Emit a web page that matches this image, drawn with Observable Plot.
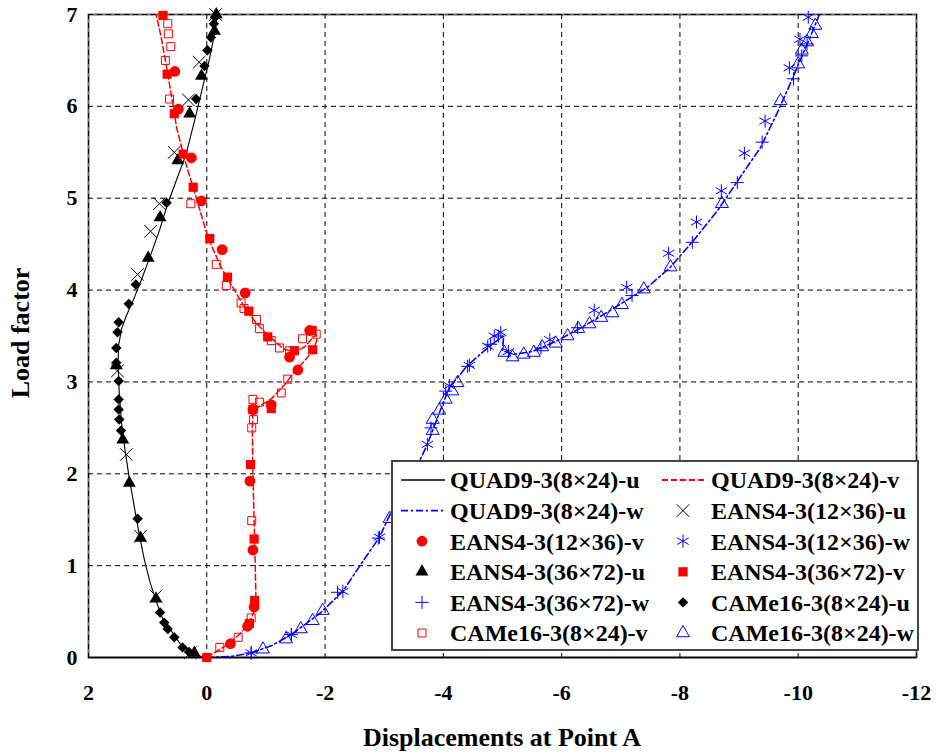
<!DOCTYPE html>
<html><head><meta charset="utf-8">
<script src="https://cdn.jsdelivr.net/npm/d3@7"></script>
<script src="https://cdn.jsdelivr.net/npm/@observablehq/plot@0.6"></script>
<style>body{margin:0;background:#fff}#chart{width:936px;height:754px}</style>
</head><body><div id="chart"></div>
<script>
// ---------- data ----------
const xTicks = [2, 0, -2, -4, -6, -8, -10, -12];
const yTicks = [0, 1, 2, 3, 4, 5, 6, 7];
const xTitle = "Displacements at Point A";
const yTitle = "Load factor";

// QUAD9-3(8x24) reference curves
const quadU_x = [0, 0.16, 0.28, 0.44, 0.60, 0.75, 0.86, 0.96, 1.05, 1.13, 1.22, 1.31, 1.38, 1.44, 1.48, 1.50, 1.49, 1.44, 1.36, 1.25, 1.10, 0.95, 0.80, 0.66, 0.50, 0.35, 0.20, 0.07, -0.04, -0.12, -0.18];
const quadU_y = [0, 0.02, 0.07, 0.14, 0.29, 0.43, 0.62, 0.82, 1.05, 1.30, 1.62, 1.95, 2.25, 2.55, 2.88, 3.20, 3.40, 3.58, 3.72, 3.88, 4.12, 4.38, 4.65, 4.94, 5.22, 5.48, 5.86, 6.21, 6.50, 6.75, 7.00];
const quadV_x = [0, -0.30, -0.55, -0.72, -0.80, -0.83, -0.82, -0.80, -0.78, -0.77, -0.78, -0.90, -1.10, -1.30, -1.50, -1.68, -1.80, -1.86, -1.85, -1.65, -1.48, -1.30, -1.05, -0.85, -0.65, -0.45, -0.24, -0.02, 0.18, 0.37, 0.51, 0.65, 0.77, 0.87];
const quadV_y = [0, 0.12, 0.25, 0.38, 0.50, 0.65, 1.00, 1.50, 2.00, 2.50, 2.68, 2.74, 2.82, 2.96, 3.12, 3.25, 3.35, 3.45, 3.52, 3.38, 3.32, 3.36, 3.50, 3.63, 3.80, 4.02, 4.25, 4.57, 5.01, 5.41, 5.77, 6.32, 6.75, 7.04];
const quadW_x = [0, -0.40, -0.75, -1.10, -1.43, -1.93, -2.30, -2.61, -2.92, -3.23, -3.56, -3.73, -3.90, -4.10, -4.41, -4.75, -4.97, -5.02, -5.00, -5.19, -5.50, -5.90, -6.30, -6.70, -7.00, -7.45, -7.84, -8.23, -8.63, -9.02, -9.36, -9.64, -9.86, -10.03, -10.20, -10.37];
const quadW_y = [0, 0.01, 0.05, 0.13, 0.25, 0.49, 0.72, 1.02, 1.31, 1.74, 2.09, 2.32, 2.61, 2.94, 3.18, 3.37, 3.48, 3.50, 3.34, 3.30, 3.33, 3.44, 3.58, 3.73, 3.85, 4.03, 4.25, 4.54, 4.86, 5.23, 5.55, 5.92, 6.24, 6.50, 6.75, 7.02];

// EANS4-3(12x36)
const eans12U_x = [0.28, 0.86, 1.12, 1.36, 1.51, 1.17, 0.95, 0.80, 0.55, 0.31, 0.13, -0.15];
const eans12U_y = [0.05, 0.67, 1.32, 2.21, 3.12, 4.17, 4.64, 4.94, 5.50, 6.07, 6.48, 7.00];
const eans12V_x = [-0.40, -0.69, -0.80, -0.78, -0.73, -0.78, -1.09, -1.54, -1.40, -1.74, -0.65, -0.26, 0.09, 0.26, 0.48, 0.54];
const eans12V_y = [0.15, 0.34, 0.55, 1.17, 1.92, 2.70, 2.75, 3.13, 3.27, 3.56, 3.97, 4.44, 4.97, 5.44, 5.97, 6.38];
const eans12W_x = [-0.75, -1.43, -2.30, -2.92, -3.55, -3.73, -4.10, -4.44, -4.75, -4.86, -4.97, -5.10, -5.80, -6.55, -7.10, -7.81, -8.28, -8.70, -9.09, -9.44, -9.85, -10.03, -10.17];
const eans12W_y = [0.05, 0.25, 0.72, 1.31, 2.07, 2.32, 2.96, 3.18, 3.39, 3.50, 3.54, 3.33, 3.46, 3.78, 4.03, 4.40, 4.74, 5.08, 5.49, 5.84, 6.42, 6.73, 6.97];

// EANS4-3(36x72)
const eans36U_x = [0.21, 0.86, 1.12, 1.31, 1.42, 1.53, 0.99, 0.79, 0.49, 0.29, 0.09, -0.13, -0.16];
const eans36U_y = [0.05, 0.64, 1.30, 1.90, 2.37, 3.18, 4.35, 4.79, 5.41, 5.92, 6.33, 6.82, 7.00];
const eans36V_x = [0, -0.72, -0.81, -0.80, -0.74, -0.78, -1.09, -1.79, -1.78, -1.48, -1.03, -0.71, -0.35, -0.05, 0.23, 0.40, 0.55, 0.67, 0.74];
const eans36V_y = [0, 0.37, 0.62, 1.29, 2.10, 2.70, 2.71, 3.35, 3.56, 3.34, 3.49, 3.77, 4.14, 4.56, 5.12, 5.48, 5.92, 6.35, 6.99];
const eans36W_x = [-0.75, -1.43, -2.21, -2.90, -3.79, -4.04, -4.41, -4.80, -4.93, -5.65, -6.27, -7.19, -8.21, -8.97, -9.39, -9.92, -10.06, -10.15];
const eans36W_y = [0.05, 0.25, 0.71, 1.30, 2.50, 2.90, 3.17, 3.41, 3.50, 3.37, 3.59, 3.94, 4.52, 5.17, 5.61, 6.30, 6.55, 6.68];

// CAMe16-3(8x24)
const came16U_x = [0.30, 0.41, 0.55, 0.66, 0.72, 0.79, 1.17, 1.45, 1.48, 1.49, 1.49, 1.49, 1.53, 1.53, 1.51, 1.49, 1.32, 1.20, 0.68, 0.18, 0.04, -0.01, -0.07, -0.12, -0.14];
const came16U_y = [0.06, 0.11, 0.22, 0.31, 0.38, 0.49, 1.51, 2.47, 2.59, 2.70, 2.81, 3.01, 3.21, 3.37, 3.54, 3.65, 3.85, 4.06, 4.95, 6.08, 6.44, 6.61, 6.75, 6.90, 6.97];
const came16V_x = [-0.22, -0.53, -0.75, -0.76, -0.76, -0.79, -0.78, -0.89, -1.26, -1.37, -1.85, -1.62, -1.40, -1.23, -1.09, -0.89, -0.84, -0.63, -0.58, -0.33, -0.16, 0.27, 0.63, 0.70, 0.61, 0.65, 0.66];
const came16V_y = [0.11, 0.22, 0.43, 1.49, 2.50, 2.59, 2.81, 2.78, 2.88, 3.03, 3.52, 3.47, 3.34, 3.37, 3.45, 3.58, 3.68, 3.80, 3.86, 4.05, 4.28, 4.94, 6.08, 6.50, 6.65, 6.79, 6.90];
const came16W_x = [-0.95, -1.34, -1.59, -1.79, -1.96, -3.09, -3.82, -3.82, -3.93, -4.04, -4.15, -4.24, -5.03, -5.17, -5.36, -5.53, -5.67, -5.90, -6.10, -6.28, -6.47, -6.67, -6.86, -7.02, -7.39, -7.84, -8.71, -9.70, -10.00, -10.06, -10.15, -10.23, -10.29];
const came16W_y = [0.09, 0.20, 0.31, 0.40, 0.51, 1.51, 2.47, 2.59, 2.69, 2.81, 2.90, 2.99, 3.32, 3.27, 3.30, 3.32, 3.38, 3.42, 3.50, 3.58, 3.63, 3.70, 3.75, 3.84, 4.01, 4.25, 4.94, 6.06, 6.46, 6.61, 6.70, 6.79, 6.88];

const seriesNames = [
  "QUAD9-3(8×24)-u", "QUAD9-3(8×24)-v", "QUAD9-3(8×24)-w",
  "EANS4-3(12×36)-u", "EANS4-3(12×36)-v", "EANS4-3(12×36)-w",
  "EANS4-3(36×72)-u", "EANS4-3(36×72)-v", "EANS4-3(36×72)-w",
  "CAMe16-3(8×24)-u", "CAMe16-3(8×24)-v", "CAMe16-3(8×24)-w"
];

// ---------- styling ----------
const pts = (xs, ys) => xs.map((x, i) => ({x, y: ys[i]}));
const BLACK = "#000", RED = "#ff0000", BLUE = "#0000ff";
const FONT = "'Liberation Serif','Times New Roman',serif";

const lineStyles = {
  "QUAD9-3(8×24)-u": {data: pts(quadU_x, quadU_y), stroke: BLACK, strokeWidth: 1.1, dash: null},
  "QUAD9-3(8×24)-v": {data: pts(quadV_x, quadV_y), stroke: RED, strokeWidth: 1.5, dash: "6,3"},
  "QUAD9-3(8×24)-w": {data: pts(quadW_x, quadW_y), stroke: BLUE, strokeWidth: 1.6, dash: "7,3,2,3"}
};
const dotStyles = {
  "EANS4-3(12×36)-u": {data: pts(eans12U_x, eans12U_y), symbol: "times", d3s: d3.symbolTimes, r: 5.8, fill: "none", stroke: BLACK},
  "EANS4-3(12×36)-v": {data: pts(eans12V_x, eans12V_y), symbol: "circle", d3s: d3.symbolCircle, r: 5.4, fill: RED, stroke: "none"},
  "EANS4-3(12×36)-w": {data: pts(eans12W_x, eans12W_y), symbol: "asterisk", d3s: d3.symbolAsterisk, r: 6.2, fill: "none", stroke: BLUE},
  "EANS4-3(36×72)-u": {data: pts(eans36U_x, eans36U_y), symbol: "triangle", d3s: d3.symbolTriangle, r: 4.8, fill: BLACK, stroke: "none"},
  "EANS4-3(36×72)-v": {data: pts(eans36V_x, eans36V_y), symbol: "square", d3s: d3.symbolSquare, r: 5.2, fill: RED, stroke: "none"},
  "EANS4-3(36×72)-w": {data: pts(eans36W_x, eans36W_y), symbol: "plus", d3s: d3.symbolPlus, r: 4.3, fill: "none", stroke: BLUE},
  "CAMe16-3(8×24)-u": {data: pts(came16U_x, came16U_y), symbol: "diamond2", d3s: d3.symbolDiamond2, r: 4.7, fill: BLACK, stroke: "none"},
  "CAMe16-3(8×24)-v": {data: pts(came16V_x, came16V_y), symbol: "square", d3s: d3.symbolSquare, r: 4.5, fill: "none", stroke: RED},
  "CAMe16-3(8×24)-w": {data: pts(came16W_x, came16W_y), symbol: "triangle", d3s: d3.symbolTriangle, r: 4.8, fill: "none", stroke: BLUE}
};

const marks = [
  Plot.frame({stroke: "#666", strokeWidth: 2}),
  Plot.ruleX(xTicks, {stroke: "#000", strokeWidth: 1, strokeDasharray: "5,4"}),
  Plot.ruleY(yTicks, {stroke: "#000", strokeWidth: 1, strokeDasharray: "5,4"}),
  Plot.ruleY([0], {stroke: "#000", strokeWidth: 1.5})
];
for (const k of Object.keys(lineStyles)) {
  const s = lineStyles[k];
  marks.push(Plot.line(s.data, {x: "x", y: "y", stroke: s.stroke, strokeWidth: s.strokeWidth, strokeDasharray: s.dash, clip: true}));
}
for (const k of Object.keys(dotStyles)) {
  const s = dotStyles[k];
  marks.push(Plot.dot(s.data, {x: "x", y: "y", symbol: s.symbol, r: s.r, fill: s.fill, stroke: s.stroke, strokeWidth: 1}));
}

const plot = Plot.plot({
  width: 936, height: 754,
  marginLeft: 88, marginRight: 20, marginTop: 14, marginBottom: 97,
  style: {fontFamily: FONT, fontSize: "22px", fontWeight: "bold", background: "#fff", color: "#000"},
  x: {domain: [2, -12], ticks: xTicks, tickFormat: d => String(d), tickSize: 0, tickPadding: 27, label: null},
  y: {domain: [0, 7], ticks: yTicks, tickFormat: d => String(d), tickSize: 0, tickPadding: 11, label: null},
  marks
});
document.getElementById("chart").appendChild(plot);

// ---------- axis titles & legend ----------
const svg = d3.select(plot.tagName.toLowerCase() === "svg" ? plot : plot.querySelector("svg"));
svg.append("text").attr("x", 502).attr("y", 746).attr("text-anchor", "middle")
  .attr("font-family", FONT).attr("font-size", 26).attr("font-weight", "bold").text(xTitle);
svg.append("text").attr("transform", "translate(29,333) rotate(-90)").attr("text-anchor", "middle")
  .attr("font-family", FONT).attr("font-size", 26).attr("font-weight", "bold").text(yTitle);

const lg = svg.append("g").attr("text-anchor", "start");
lg.append("rect").attr("x", 392).attr("y", 461).attr("width", 526).attr("height", 189)
  .attr("fill", "#fff").attr("stroke", "#444").attr("stroke-width", 2);
const colX = [401, 662];
seriesNames.forEach((name, i) => {
  const col = i % 2, row = Math.floor(i / 2);
  const cy = 480 + row * 30.6;
  const x0 = colX[col];
  if (lineStyles[name]) {
    const s = lineStyles[name];
    lg.append("line").attr("x1", x0).attr("x2", x0 + 44).attr("y1", cy).attr("y2", cy)
      .attr("stroke", s.stroke).attr("stroke-width", s.strokeWidth + 0.3)
      .attr("stroke-dasharray", s.dash);
  } else {
    const s = dotStyles[name];
    lg.append("path").attr("transform", `translate(${x0 + 21},${cy})`)
      .attr("d", d3.symbol().type(s.d3s).size(Math.PI * s.r * s.r)())
      .attr("fill", s.fill).attr("stroke", s.stroke).attr("stroke-width", 1);
  }
  lg.append("text").attr("x", x0 + 49).attr("y", cy).attr("dy", "0.35em").attr("text-anchor", "start")
    .attr("font-family", FONT).attr("font-size", 24).attr("font-weight", "bold").text(name);
});
</script>
</body></html>
